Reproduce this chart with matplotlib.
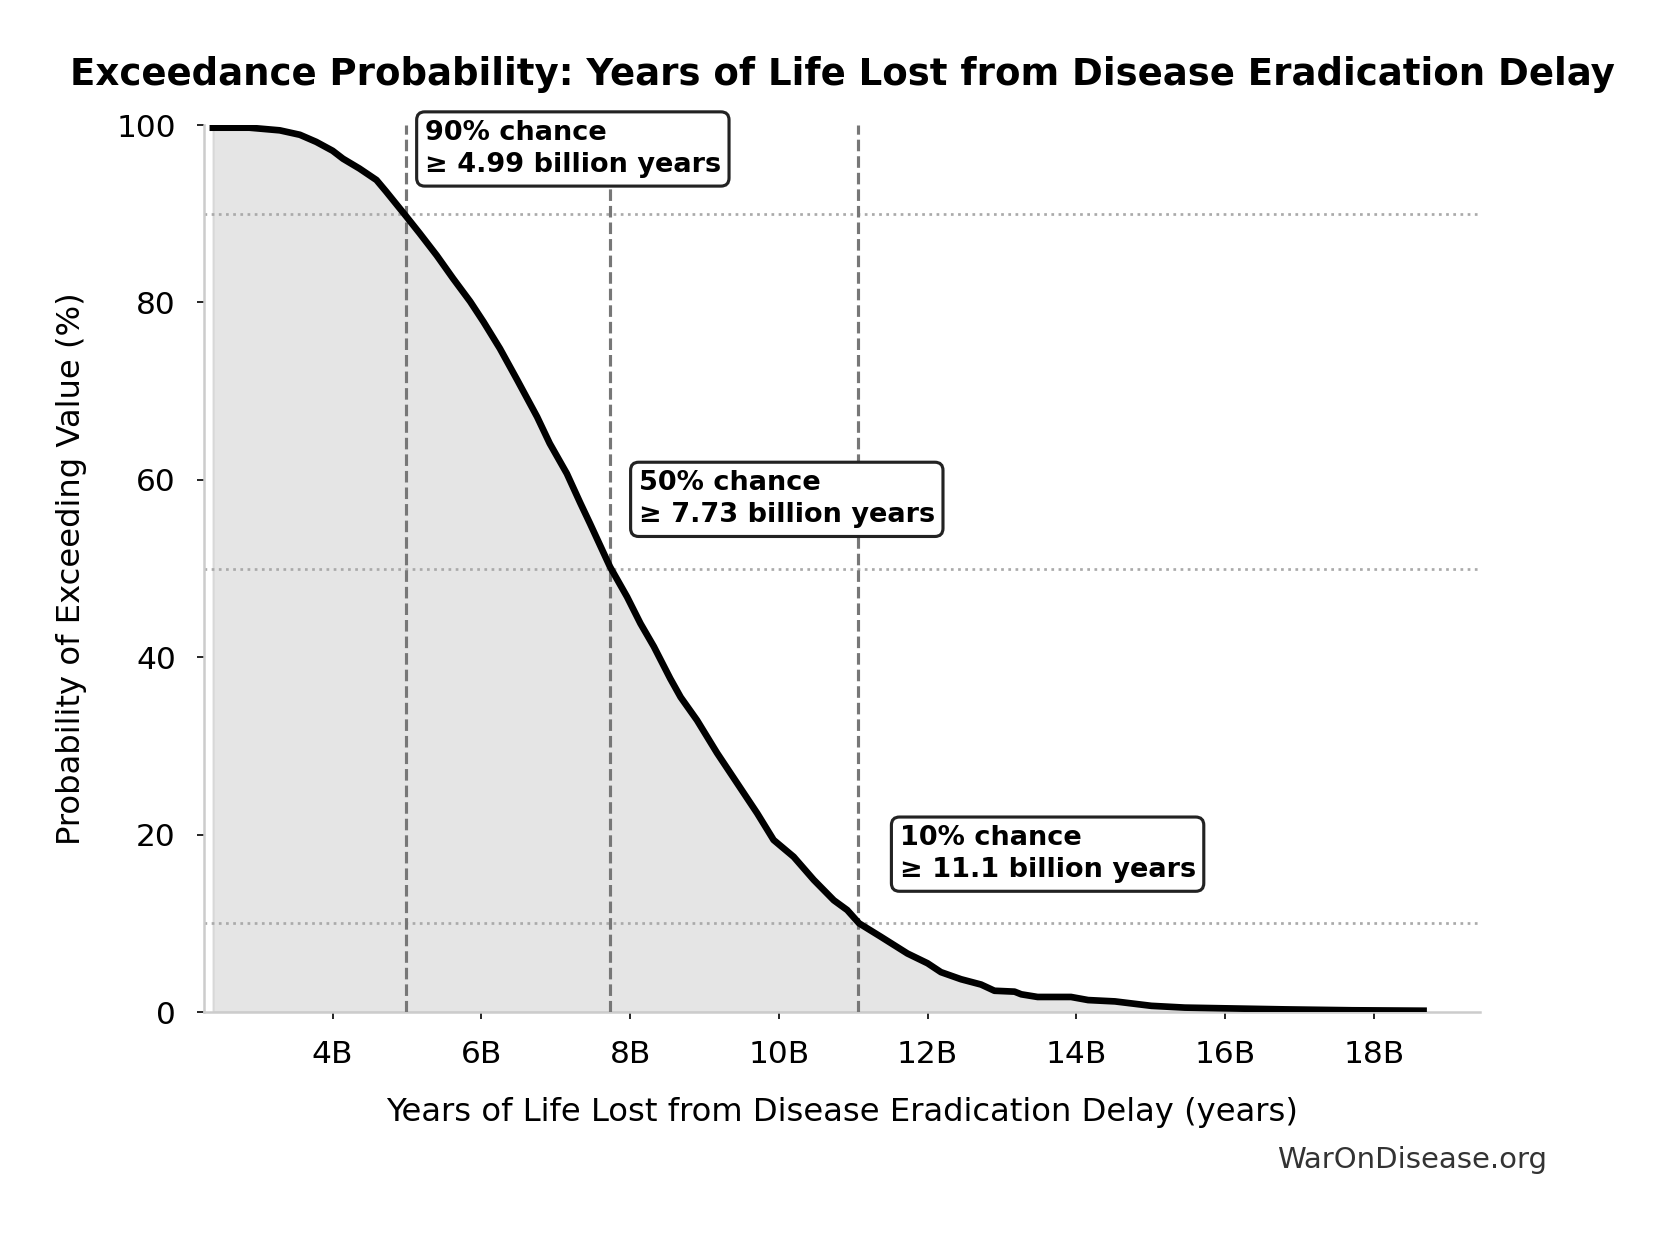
import matplotlib
matplotlib.use("Agg")
import matplotlib.pyplot as plt
from matplotlib.ticker import FuncFormatter

# exceedance curve (billions of years, % chance of exceeding)
years_b = [2.39, 2.88, 3.29, 3.56, 3.78, 4.00, 4.14, 4.36, 4.59, 4.72, 4.99, 5.17,
           5.40, 5.62, 5.85, 6.03, 6.25, 6.48, 6.75, 6.92, 7.15, 7.33, 7.46, 7.73,
           7.96, 8.14, 8.32, 8.54, 8.68, 8.90, 9.17, 9.44, 9.71, 9.93, 10.20, 10.47,
           10.74, 10.92, 11.08, 11.37, 11.73, 12.00, 12.18, 12.45, 12.72, 12.90, 13.17,
           13.26, 13.48, 13.93, 14.16, 14.52, 15.01, 15.46, 16.13, 16.81, 17.71, 18.67]
exceed_pct = [99.7, 99.7, 99.4, 98.9, 98.1, 97.1, 96.2, 95.1, 93.8, 92.5, 89.7, 87.8,
              85.3, 82.7, 80.1, 77.8, 74.8, 71.3, 67.1, 64.1, 60.7, 57.4, 55.1, 50.2,
              46.8, 43.8, 41.2, 37.6, 35.5, 32.9, 29.2, 25.8, 22.4, 19.4, 17.5, 14.9,
              12.6, 11.5, 10.0, 8.5, 6.6, 5.5, 4.5, 3.7, 3.1, 2.4, 2.3,
              2.0, 1.7, 1.7, 1.35, 1.2, 0.7, 0.5, 0.4, 0.3, 0.2, 0.15]

marker_pct = [90, 50, 10]
marker_val = [4.99, 7.73, 11.07]
marker_lbl = ["4.99 billion", "7.73 billion", "11.1 billion"]
label_y = [97.3, 57.8, 17.8]

fig = plt.figure(figsize=(1669 / 150, 1233 / 150), dpi=150)
ax = fig.add_axes([0.1222, 0.1792, 0.7646, 0.7194])

ax.fill_between(years_b, exceed_pct, 0, color="#808080", alpha=0.2)
ax.plot(years_b, exceed_pct, color="black", lw=3.2, zorder=4)

for p, v, lbl, ty in zip(marker_pct, marker_val, marker_lbl, label_y):
    ax.axhline(p, color="#aaaaaa", ls=":", lw=1.3, zorder=2)
    ax.axvline(v, color="#777777", ls="--", lw=1.5, zorder=3)
    ax.text(v * 1.05, ty, f"{p}% chance\n\u2265 {lbl} years", fontsize=13, fontweight="bold",
            va="center", ha="left", zorder=5, linespacing=1.3,
            bbox=dict(boxstyle="round,pad=0.3", facecolor="white", edgecolor="#222222", lw=1.5))

ax.set_xlim(2.27, 19.43)
ax.set_ylim(0, 100)
ax.xaxis.set_major_formatter(FuncFormatter(lambda x, pos: f"{x:.0f}B"))
ax.set_xticks([4, 6, 8, 10, 12, 14, 16, 18])
ax.set_yticks([0, 20, 40, 60, 80, 100])
ax.tick_params(labelsize=15, pad=10)

for s in ["top", "right"]:
    ax.spines[s].set_visible(False)
for s in ["left", "bottom"]:
    ax.spines[s].set_color("#cccccc")
    ax.spines[s].set_linewidth(1.2)

ax.set_xlabel("Years of Life Lost from Disease Eradication Delay (years)", fontsize=15.5, labelpad=13.5)
ax.set_ylabel("Probability of Exceeding Value (%)", fontsize=15.5, labelpad=14)
ax.set_title("Exceedance Probability: Years of Life Lost from Disease Eradication Delay",
             fontsize=17.8, fontweight="bold", pad=19)

fig.text(0.9268, 0.059, "WarOnDisease.org", fontsize=14, color="#333333", ha="right", va="center")

fig.savefig("out.png", dpi=150)
